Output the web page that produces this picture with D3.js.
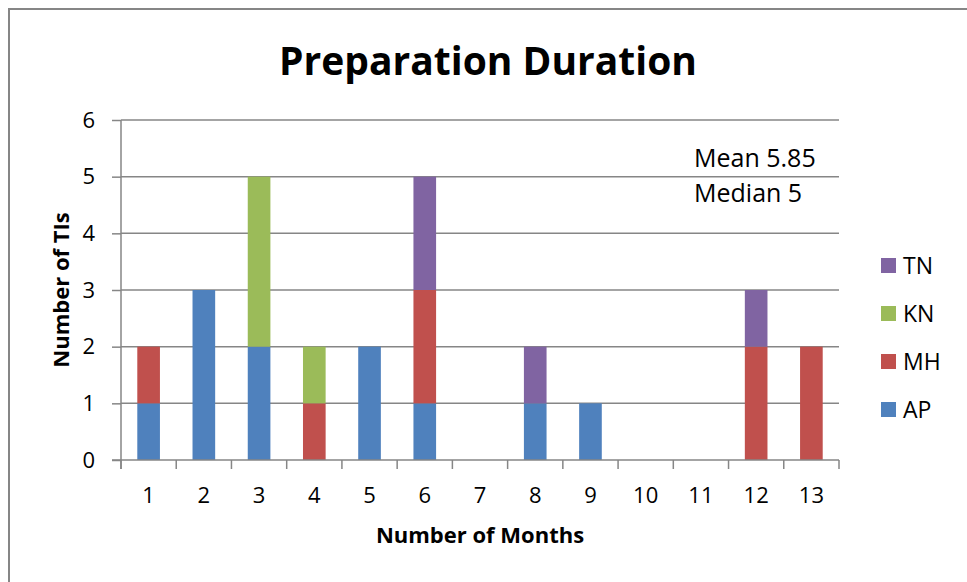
<!DOCTYPE html>
<html>
<head>
<meta charset="utf-8">
<script src="https://cdn.jsdelivr.net/npm/d3@7"></script>
<style>
html,body{margin:0;padding:0;background:#fff;}
svg{display:block;}
text{font-family:"Open Sans","Noto Sans",sans-serif;fill:#000;}
</style>
</head>
<body>
<svg id="chart" width="967" height="582"></svg>
<script>
const categories = ["1","2","3","4","5","6","7","8","9","10","11","12","13"];
const seriesNames = ["AP","MH","KN","TN"];
const AP = [1,3,2,0,2,1,0,1,1,0,0,0,0];
const MH = [1,0,0,1,0,2,0,0,0,0,0,2,2];
const KN = [0,0,3,1,0,0,0,0,0,0,0,0,0];
const TN = [0,0,0,0,0,2,0,1,0,0,0,1,0];
const yTicks = [0,1,2,3,4,5,6];
const colors = {AP:"#4F81BD", MH:"#C0504D", KN:"#9BBB59", TN:"#8064A2"};
const titleText = "Preparation Duration";
const xTitle = "Number of Months";
const yTitle = "Number of TIs";
const annotations = ["Mean 5.85","Median 5"];

const seriesValues = {AP, MH, KN, TN};
const table = categories.map((c,i)=>{
  const row = {cat:c};
  seriesNames.forEach(s=>row[s]=seriesValues[s][i]);
  return row;
});

const svg = d3.select("#chart");
// outer chart border
svg.append("rect").attr("x",9).attr("y",9).attr("width",1000).attr("height",700)
  .attr("fill","none").attr("stroke","#868686").attr("stroke-width",2);

const pL=121, pR=839, pT=120, pB=460;
const x = d3.scaleBand().domain(categories).range([pL,pR]).paddingInner(0.59).paddingOuter(0.295);
const y = d3.scaleLinear().domain([0,6]).range([pB,pT]);

// gridlines
svg.append("g").selectAll("line").data(yTicks.filter(d=>d>0)).join("line")
  .attr("x1",pL).attr("x2",pR).attr("y1",d=>y(d)).attr("y2",d=>y(d))
  .attr("stroke","#868686").attr("stroke-width",1.5);

// stacked bars
const stack = d3.stack().keys(seriesNames)(table);
svg.append("g").selectAll("g").data(stack).join("g")
  .attr("fill",d=>colors[d.key])
  .selectAll("rect").data(d=>d).join("rect")
  .attr("x",d=>x(d.data.cat)).attr("width",x.bandwidth())
  .attr("y",d=>y(d[1])).attr("height",d=>y(d[0])-y(d[1]));

// y axis
const yAxis = d3.axisLeft(y).tickValues(yTicks).tickSize(9).tickPadding(17).tickFormat(d3.format("d"));
const gy = svg.append("g").attr("transform",`translate(${pL},0)`).call(yAxis);
gy.select(".domain").remove();
gy.append("line").attr("x1",0).attr("x2",0).attr("y1",pT).attr("y2",pB+9).attr("stroke","#868686").attr("stroke-width",1.5);
gy.selectAll(".tick line").attr("stroke","#868686").attr("stroke-width",1.5);
gy.selectAll(".tick text").attr("font-size",22).attr("fill","#000");

// x axis
const xAxis = d3.axisBottom(x).tickSize(0).tickPadding(27);
const gx = svg.append("g").attr("transform",`translate(0,${pB})`).call(xAxis);
gx.select(".domain").remove();
gx.selectAll(".tick text").attr("font-size",22).attr("fill","#000");
gx.append("line").attr("x1",pL-9).attr("x2",pR).attr("y1",0).attr("y2",0).attr("stroke","#868686").attr("stroke-width",1.5);
const bStep = x.step();
gx.append("g").selectAll("line").data(d3.range(categories.length+1)).join("line")
  .attr("x1",i=>pL+i*bStep).attr("x2",i=>pL+i*bStep).attr("y1",0).attr("y2",9)
  .attr("stroke","#868686").attr("stroke-width",1.5);

// title
svg.append("text").attr("x",488).attr("y",75).attr("text-anchor","middle")
  .attr("font-size",39).attr("font-weight","bold").text(titleText);
// axis titles
svg.append("text").attr("x",480).attr("y",543).attr("text-anchor","middle")
  .attr("font-size",22).attr("font-weight","bold").text(xTitle);
svg.append("text").attr("transform","translate(69,290) rotate(-90)").attr("text-anchor","middle")
  .attr("font-size",22).attr("font-weight","bold").text(yTitle);

// annotations
svg.append("g").selectAll("text").data(annotations).join("text")
  .attr("x",694).attr("y",(d,i)=>167+i*35).attr("font-size",25).text(d=>d);

// legend (reversed order)
const legendOrder = seriesNames.slice().reverse();
const lg = svg.append("g").selectAll("g").data(legendOrder).join("g")
  .attr("transform",(d,i)=>`translate(881,${258+i*48})`);
lg.append("rect").attr("width",15).attr("height",15).attr("fill",d=>colors[d]);
lg.append("text").attr("x",22).attr("y",16).attr("font-size",23).text(d=>d);
</script>
</body>
</html>
